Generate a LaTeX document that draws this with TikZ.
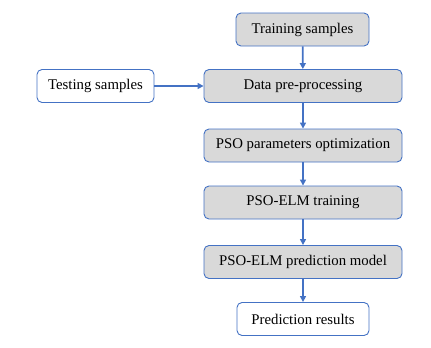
\documentclass[tikz,border=0pt]{standalone}
\usepackage{fontspec}
\setmainfont{Liberation Serif}
\usetikzlibrary{arrows.meta}
\definecolor{bord}{HTML}{4472C4}
\definecolor{boxfill}{HTML}{D9D9D9}
\tikzset{
  box/.style={draw=bord, line width=0.9pt, rounded corners=5pt, minimum height=33pt, font=\fontsize{14.8}{17}\selectfont, inner sep=0pt},
  graybox/.style={box, fill=boxfill},
  wide/.style={minimum width=198pt},
  whitebox/.style={box, fill=white},
  arr/.style={draw=bord, line width=1.7pt, -{Triangle[length=6pt,width=6pt]}}
}
\begin{document}
\begin{tikzpicture}[x=1pt,y=-1pt]
\useasboundingbox (0,0) rectangle (431,348);
\node[graybox, minimum width=133pt] (train) at (302.5,29.5) {Training samples};
\node[graybox, wide] (pre) at (303,86) {Data pre-processing};
\node[whitebox, minimum width=117pt] (test) at (95.5,86) {Testing samples};
\node[graybox, wide] (pso) at (303,145.5) {PSO parameters optimization};
\node[graybox, wide] (elm) at (303,202.5) {PSO-ELM training};
\node[graybox, wide] (model) at (303,262) {PSO-ELM prediction model};
\node[whitebox, minimum width=132pt] (res) at (303,319) {Prediction results};
\draw[arr] (train) -- (pre);
\draw[arr] (test) -- (pre);
\draw[arr] (pre) -- (pso);
\draw[arr] (pso) -- (elm);
\draw[arr] (elm) -- (model);
\draw[arr] (model) -- (res);
\end{tikzpicture}
\end{document}
